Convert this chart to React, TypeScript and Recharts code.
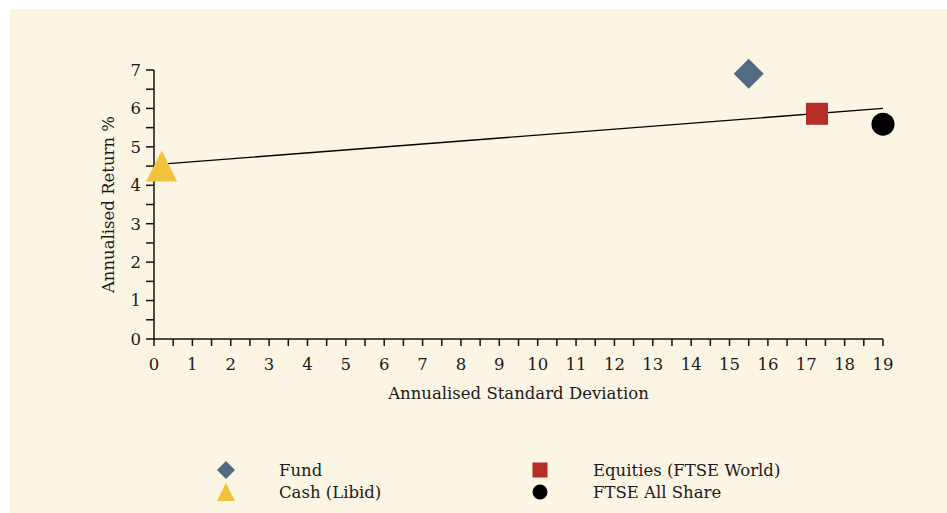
import { ScatterChart, Scatter, XAxis, YAxis, Legend } from 'recharts'

const fund = [{ x: 15.5, y: 6.9 }]
const equities = [{ x: 17.28, y: 5.86 }]
const ftseAllShare = [{ x: 19.0, y: 5.59 }]
const cash = [{ x: 0.2, y: 4.5 }]
const trendLine = [
  { x: 0.2, y: 4.55 },
  { x: 19, y: 6.0 },
]

const xTicks = Array.from({ length: 39 }, (_, i) => i / 2)
const yTicks = Array.from({ length: 15 }, (_, i) => i / 2)

const FONT = '"DejaVu Serif", serif'
const BG = '#fdf5e3'

const intLabel = (v: number) => (Number.isInteger(v) ? String(v) : '')

function Diamond({ cx, cy, fill, r = 15 }: any) {
  return <polygon points={`${cx},${cy - r} ${cx + r},${cy} ${cx},${cy + r} ${cx - r},${cy}`} fill={fill} />
}
function Square({ cx, cy, fill, s = 22 }: any) {
  return <rect x={cx - s / 2} y={cy - s / 2} width={s} height={s} fill={fill} />
}
function Dot({ cx, cy, fill, r = 11.5 }: any) {
  return <circle cx={cx} cy={cy} r={r} fill={fill} />
}
function Triangle({ cx, cy, fill, w = 31 }: any) {
  const h = w
  return <polygon points={`${cx},${cy - h / 2} ${cx + w / 2},${cy + h / 2} ${cx - w / 2},${cy + h / 2}`} fill={fill} />
}
const Nothing = () => <g />

const legendItems = [
  { name: 'Fund', color: '#536b82', Shape: Diamond, left: 206, top: 13, size: 9 },
  { name: 'Cash (Libid)', color: '#f0c33c', Shape: Triangle, left: 206, top: 35, size: 18 },
  { name: 'Equities (FTSE World)', color: '#b52d25', Shape: Square, left: 520, top: 13, size: 15 },
  { name: 'FTSE All Share', color: '#000000', Shape: Dot, left: 520, top: 35, size: 7.5 },
]

function LegendBox() {
  return (
    <div style={{ position: 'relative', height: 56, width: 937, fontFamily: FONT, fontSize: 16.5, color: '#1a1a1a' }}>
      {legendItems.map(({ name, color, Shape, left, top, size }) => (
        <div key={name} style={{ position: 'absolute', left, top: top - 11, height: 22, display: 'flex', alignItems: 'center' }}>
          <svg width={20} height={22} style={{ display: 'block' }}>
            <Shape cx={10} cy={11} fill={color} r={size} s={size} w={size} />
          </svg>
          <span style={{ marginLeft: 43, whiteSpace: 'nowrap' }}>{name}</span>
        </div>
      ))}
    </div>
  )
}

function YLabel({ viewBox }: any) {
  const x = viewBox.x + 98
  const y = viewBox.y + viewBox.height / 2
  return (
    <text x={x} y={y} transform={`rotate(-90, ${x}, ${y})`} textAnchor="middle" dominantBaseline="central"
      fontFamily={FONT} fontSize={16.5} fill="#1a1a1a">
      Annualised Return %
    </text>
  )
}

export default function App() {
  return (
    <div style={{ position: 'absolute', left: 10, top: 9, width: 937, height: 504, background: BG }}>
      <ScatterChart width={937} height={504} margin={{ top: 61, right: 64, left: 0, bottom: 0 }}>
        <XAxis
          type="number"
          dataKey="x"
          domain={[0, 19]}
          ticks={xTicks}
          interval={0}
          tickFormatter={intLabel}
          tickSize={7}
          tickMargin={12}
          height={118}
          stroke="#111"
          strokeWidth={1.5}
          tick={{ fill: '#1a1a1a', fontFamily: FONT, fontSize: 16.5 }}
          label={{ value: 'Annualised Standard Deviation', position: 'insideTop', offset: 48, fill: '#1a1a1a', fontFamily: FONT, fontSize: 16.5 }}
        />
        <YAxis
          type="number"
          dataKey="y"
          domain={[0, 7]}
          ticks={yTicks}
          interval={0}
          tickFormatter={intLabel}
          tickSize={8}
          tickMargin={5}
          width={144}
          stroke="#111"
          strokeWidth={1.5}
          tick={{ fill: '#1a1a1a', fontFamily: FONT, fontSize: 16.5 }}
          label={<YLabel />}
        />
        <Legend verticalAlign="bottom" content={<LegendBox />} wrapperStyle={{ left: 0, bottom: 0, width: 937, height: 56 }} />
        <Scatter name="trend" data={trendLine} line={{ stroke: '#000', strokeWidth: 1.3 }} shape={<Nothing />} isAnimationActive={false} legendType="none" />
        <Scatter name="Fund" data={fund} fill="#536b82" shape={<Diamond />} isAnimationActive={false} />
        <Scatter name="Equities (FTSE World)" data={equities} fill="#b52d25" shape={<Square />} isAnimationActive={false} />
        <Scatter name="FTSE All Share" data={ftseAllShare} fill="#000000" shape={<Dot />} isAnimationActive={false} />
        <Scatter name="Cash (Libid)" data={cash} fill="#f0c33c" shape={<Triangle />} isAnimationActive={false} />
      </ScatterChart>
    </div>
  )
}
